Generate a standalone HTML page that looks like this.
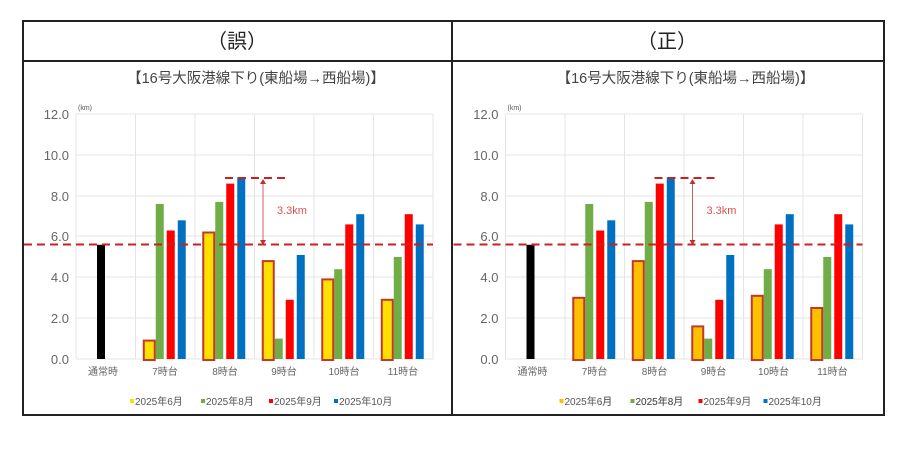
<!DOCTYPE html>
<html><head><meta charset="utf-8"><style>
html,body{margin:0;padding:0;background:#fff;}
svg{display:block;font-family:"Liberation Sans","Noto Sans CJK JP",sans-serif;}
</style></head><body>
<svg width="900" height="450" viewBox="0 0 900 450" xmlns="http://www.w3.org/2000/svg">
<defs>
<g id="axes">
  <g stroke="#e4e4e4" stroke-width="1">
    <line x1="76" y1="114" x2="433" y2="114"/><line x1="76" y1="155" x2="433" y2="155"/>
    <line x1="76" y1="196" x2="433" y2="196"/><line x1="76" y1="236" x2="433" y2="236"/>
    <line x1="76" y1="277" x2="433" y2="277"/><line x1="76" y1="318" x2="433" y2="318"/>
    <line x1="76" y1="359" x2="433" y2="359"/>
    <line x1="76" y1="114" x2="76" y2="359"/><line x1="135.5" y1="114" x2="135.5" y2="359"/>
    <line x1="195" y1="114" x2="195" y2="359"/><line x1="254.5" y1="114" x2="254.5" y2="359"/>
    <line x1="314" y1="114" x2="314" y2="359"/><line x1="373.5" y1="114" x2="373.5" y2="359"/>
    <line x1="433" y1="114" x2="433" y2="359"/>
  </g>
  <g fill="#666" font-size="13" text-anchor="end">
    <text x="69" y="119">12.0</text><text x="69" y="160">10.0</text><text x="69" y="201">8.0</text>
    <text x="69" y="241">6.0</text><text x="69" y="282">4.0</text><text x="69" y="323">2.0</text>
    <text x="69" y="364">0.0</text>
  </g>
  <text x="78" y="110" font-size="7" fill="#555">(km)</text>
  <g fill="#666" font-size="10" text-anchor="middle">
    <text x="103" y="375">通常時</text><text x="165" y="375">7時台</text><text x="225" y="375">8時台</text>
    <text x="284" y="375">9時台</text><text x="344" y="375">10時台</text><text x="403" y="375">11時台</text>
  </g>
  <text x="256" y="83" font-size="14.5" fill="#444" text-anchor="middle">【16号大阪港線下り(東船場→西船場)】</text>
  <rect x="97" y="244.8" width="8" height="114.2" fill="#000"/>
  <g transform="translate(165.25,0)">
    <rect x="-9.5" y="204" width="8" height="155" fill="#70ad47"/>
    <rect x="1.5" y="230.5" width="8" height="128.5" fill="#ff0000"/>
    <rect x="12.5" y="220.3" width="8" height="138.7" fill="#0070c0"/>
  </g>
  <g transform="translate(224.75,0)">
    <rect x="-9.5" y="201.9" width="8" height="157.1" fill="#70ad47"/>
    <rect x="1.5" y="183.6" width="8" height="175.4" fill="#ff0000"/>
    <rect x="12.5" y="177.4" width="8" height="181.6" fill="#0070c0"/>
  </g>
  <g transform="translate(284.25,0)">
    <rect x="-9.5" y="338.6" width="8" height="20.4" fill="#70ad47"/>
    <rect x="1.5" y="299.8" width="8" height="59.2" fill="#ff0000"/>
    <rect x="12.5" y="255" width="8" height="104" fill="#0070c0"/>
  </g>
  <g transform="translate(343.75,0)">
    <rect x="-9.5" y="269.2" width="8" height="89.8" fill="#70ad47"/>
    <rect x="1.5" y="224.4" width="8" height="134.6" fill="#ff0000"/>
    <rect x="12.5" y="214.2" width="8" height="144.8" fill="#0070c0"/>
  </g>
  <g transform="translate(403.25,0)">
    <rect x="-9.5" y="257" width="8" height="102" fill="#70ad47"/>
    <rect x="1.5" y="214.2" width="8" height="144.8" fill="#ff0000"/>
    <rect x="12.5" y="224.4" width="8" height="134.6" fill="#0070c0"/>
  </g>
  <line x1="24" y1="244.5" x2="433" y2="244.5" stroke="#cc1f1f" stroke-width="2" stroke-dasharray="8,5"/>
  <line x1="225" y1="178" x2="285" y2="178" stroke="#cc1f1f" stroke-width="2" stroke-dasharray="8,5"/>
  <line x1="263" y1="181" x2="263" y2="243" stroke="#d06060" stroke-width="1"/>
  <path d="M260,184 L263,179 L266,184 Z M260,240 L263,245 L266,240 Z" fill="#c03030"/>
  <text x="277" y="214" font-size="11" fill="#e05050">3.3km</text>
  <g font-size="10" fill="#555">
    <rect x="130" y="399" width="4" height="4" fill="#ffe000"/><text x="135" y="405">2025年6月</text>
    <rect x="201" y="399" width="4" height="4" fill="#70ad47"/><text x="206" y="405">2025年8月</text>
    <rect x="269" y="399" width="4" height="4" fill="#ff0000"/><text x="274" y="405">2025年9月</text>
    <rect x="334" y="399" width="4" height="4" fill="#0070c0"/><text x="339" y="405">2025年10月</text>
  </g>
</g>
</defs>

<rect x="23" y="21" width="861" height="394" fill="none" stroke="#222" stroke-width="2"/>
<line x1="23" y1="61" x2="884" y2="61" stroke="#222" stroke-width="2"/>
<line x1="452" y1="21" x2="452" y2="415" stroke="#222" stroke-width="2"/>
<text x="237" y="48" font-size="20" fill="#222" text-anchor="middle">（誤）</text>
<text x="667" y="48" font-size="20" fill="#222" text-anchor="middle">（正）</text>

<use href="#axes"/>
<g fill="#ffe000" stroke="#c0392b" stroke-width="2">
  <rect x="143.75" y="340.6" width="11" height="19.4"/>
  <rect x="203.25" y="232.5" width="11" height="127.5"/>
  <rect x="262.75" y="261.1" width="11" height="98.9"/>
  <rect x="322.25" y="279.4" width="11" height="80.6"/>
  <rect x="381.75" y="299.8" width="11" height="60.2"/>
</g>

<g transform="translate(429.5,0)">
  <use href="#axes"/>
  <rect x="50" y="395" width="120" height="14" fill="#fff"/>
  <g font-size="10" fill="#555">
    <rect x="130" y="399" width="4" height="4" fill="#ffc000"/><text x="135" y="405">2025年6月</text>
    <rect x="201" y="399" width="4" height="4" fill="#70ad47"/><text x="206" y="405">2025年8月</text>
  </g>
  <g fill="#ffc000" stroke="#c0392b" stroke-width="2">
    <rect x="143.75" y="297.8" width="11" height="62.2"/>
    <rect x="203.25" y="261.1" width="11" height="98.9"/>
    <rect x="262.75" y="326.4" width="11" height="33.6"/>
    <rect x="322.25" y="295.8" width="11" height="64.2"/>
    <rect x="381.75" y="308" width="11" height="52"/>
  </g>
</g>
</svg>
</body></html>
